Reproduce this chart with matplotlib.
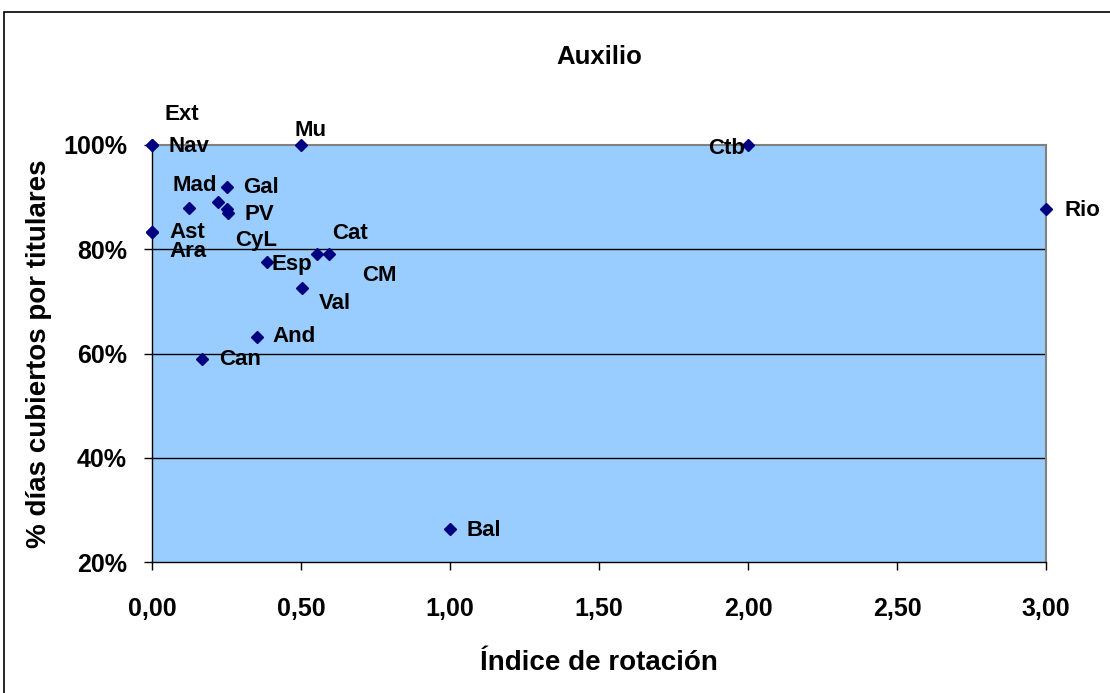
import matplotlib.pyplot as plt
import matplotlib.patches as patches
from matplotlib.ticker import FuncFormatter

plt.rcParams['font.family'] = ['Liberation Sans', 'DejaVu Sans']
plt.rcParams['font.weight'] = 'bold'

# datos
regiones = ['Ext', 'Nav', 'Mu', 'Mad', 'Gal', 'CyL', 'PV', '', 'Ast', 'Ara',
            'Esp', 'Cat', 'CM', 'Val', 'And', 'Can', 'Bal', 'Ctb', 'Rio']
rotacion = [0.00, 0.00, 0.50, 0.125, 0.25, 0.22, 0.25, 0.255, 0.00, 0.00,
            0.387, 0.553, 0.595, 0.502, 0.351, 0.169, 1.00, 2.00, 3.00]
cubiertos = [100.0, 100.0, 100.0, 88.0, 92.0, 89.0, 87.7, 87.0, 83.4, 83.4,
             77.6, 79.1, 79.1, 72.5, 63.2, 58.9, 26.3, 100.0, 87.7]

x_ticks = [0.0, 0.5, 1.0, 1.5, 2.0, 2.5, 3.0]
y_ticks = [20, 40, 60, 80, 100]

# posicion de las etiquetas (pixeles respecto al punto)
desplaz = {
    'Ext': (13, 31, 'left'), 'Nav': (17, -1, 'left'), 'Mu': (-7, 15, 'left'),
    'Mad': (-17, 22, 'left'), 'Gal': (17, -1, 'left'), 'CyL': (18, -38, 'left'),
    'PV': (18, -5, 'left'), 'Ast': (17, -1, 'left'), 'Ara': (17, -20, 'left'),
    'Esp': (4, -3, 'left'), 'Cat': (15, 20, 'left'), 'CM': (33, -22, 'left'),
    'Val': (17, -15, 'left'), 'And': (16, 0, 'left'), 'Can': (17, 0, 'left'),
    'Bal': (17, -1, 'left'), 'Ctb': (-3, -4, 'right'), 'Rio': (18, -1, 'left'),
}

fig = plt.figure(figsize=(11.1, 6.93), dpi=100, facecolor='white')
ax = fig.add_axes([152/1110, 1 - 562/693, (1046 - 152)/1110, (562 - 145)/693])
ax.set_facecolor('#99CCFF')

# marco del grafico
fig.patches.append(patches.Rectangle((4/1110, -0.05), 1.1, 1 - 12/693 + 0.05,
                                     transform=fig.transFigure, fill=False,
                                     edgecolor='black', linewidth=1.2))

for y in [40, 60, 80]:
    ax.axhline(y, color='black', linewidth=1, zorder=1)

ax.plot(rotacion, cubiertos, linestyle='none', marker='D', markersize=6,
        color='#000080', clip_on=False, zorder=3)

for nombre, x, y in zip(regiones, rotacion, cubiertos):
    if not nombre:
        continue
    dx, dy, ha = desplaz[nombre]
    ax.annotate(nombre, (x, y), xytext=(dx, dy), textcoords='offset pixels',
                ha=ha, va='center', fontsize=16, fontweight='bold',
                annotation_clip=False, zorder=4)

ax.set_xlim(0, 3)
ax.set_ylim(20, 100)
ax.set_xticks(x_ticks)
ax.set_yticks(y_ticks)
ax.xaxis.set_major_formatter(FuncFormatter(lambda v, p: f'{v:.2f}'.replace('.', ',')))
ax.yaxis.set_major_formatter(FuncFormatter(lambda v, p: f'{v:.0f}%'))
ax.tick_params(axis='x', direction='out', length=6, width=1, pad=19, labelsize=18)
ax.tick_params(axis='y', direction='out', length=6, width=1, pad=12, labelsize=18)

for s in ['top', 'right']:
    ax.spines[s].set_color('#808080')
    ax.spines[s].set_linewidth(1.5)
for s in ['left', 'bottom']:
    ax.spines[s].set_color('black')
    ax.spines[s].set_linewidth(1)

ax.set_title('Auxilio', fontsize=18.5, fontweight='bold', pad=58)
ax.set_xlabel('Índice de rotación', fontsize=20, fontweight='bold', labelpad=21)
ax.set_ylabel('% días cubiertos por titulares', fontsize=20, fontweight='bold', labelpad=8)

fig.savefig('out.png', dpi=100)
